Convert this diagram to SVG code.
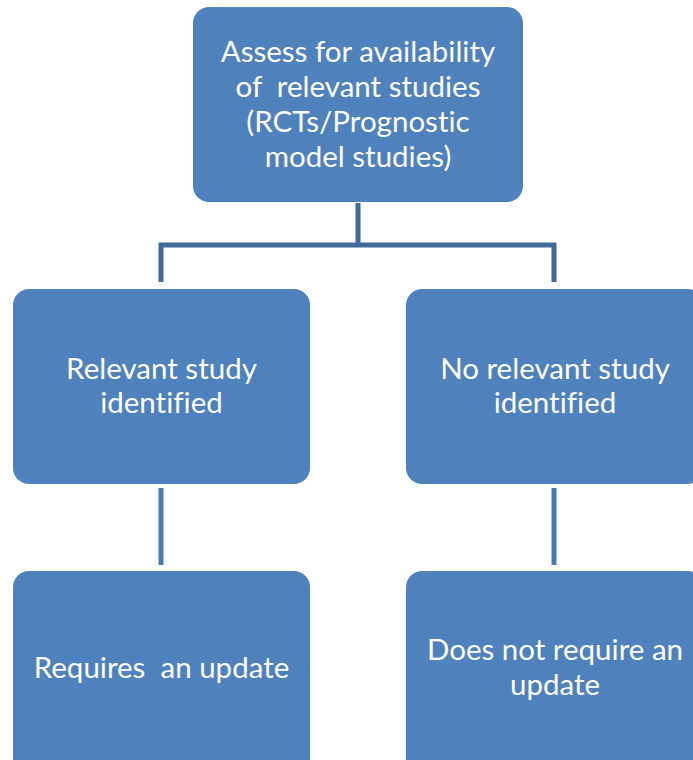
<svg xmlns="http://www.w3.org/2000/svg" width="693" height="760" viewBox="0 0 693 760">
  <style>
    .box { fill: #4f81bd; }
    .lbl { fill: #ffffff; font-family: Lato, "Open Sans", "Liberation Sans", sans-serif; font-size: 29.5px; text-anchor: middle; font-variant-ligatures: none; font-feature-settings: "liga" 0, "clig" 0; }
    .link { fill: none; stroke-linecap: butt; }
    .trunk { stroke: #41699c; stroke-width: 5; }
    .drop { stroke: #4a7ab5; stroke-width: 5; }
  </style>
  <rect width="693" height="760" fill="#ffffff"/>

  <!-- connectors -->
  <g id="connectors">
    <path class="link trunk" d="M358,203 V245 M159,245 H556 M161,243 V282 M554,243 V282"/>
    <path class="link drop" d="M161,488 V565"/>
    <path class="link drop" d="M554,488 V565"/>
  </g>

  <!-- root question -->
  <g id="assess">
    <rect class="box" x="193" y="7" width="330" height="195" rx="16"/>
    <text class="lbl" x="358" y="62">Assess for availability</text>
    <text class="lbl" x="358" y="97" xml:space="preserve">of  relevant studies</text>
    <text class="lbl" x="358" y="132">(RCTs/Prognostic</text>
    <text class="lbl" x="358" y="167">model studies)</text>
  </g>

  <g id="relevant">
    <rect class="box" x="13" y="289" width="297" height="195" rx="16"/>
    <text class="lbl" x="161.5" y="379">Relevant study</text>
    <text class="lbl" x="161.5" y="413">identified</text>
  </g>

  <g id="no-relevant">
    <rect class="box" x="406" y="289" width="297" height="195" rx="16"/>
    <text class="lbl" x="555" y="379">No relevant study</text>
    <text class="lbl" x="555" y="413">identified</text>
  </g>

  <g id="requires-update">
    <rect class="box" x="13" y="571" width="297" height="210" rx="16"/>
    <text class="lbl" x="161.5" y="678" xml:space="preserve">Requires  an update</text>
  </g>

  <g id="no-update">
    <rect class="box" x="406" y="571" width="297" height="210" rx="16"/>
    <text class="lbl" x="555" y="660">Does not require an</text>
    <text class="lbl" x="555" y="695">update</text>
  </g>
</svg>
